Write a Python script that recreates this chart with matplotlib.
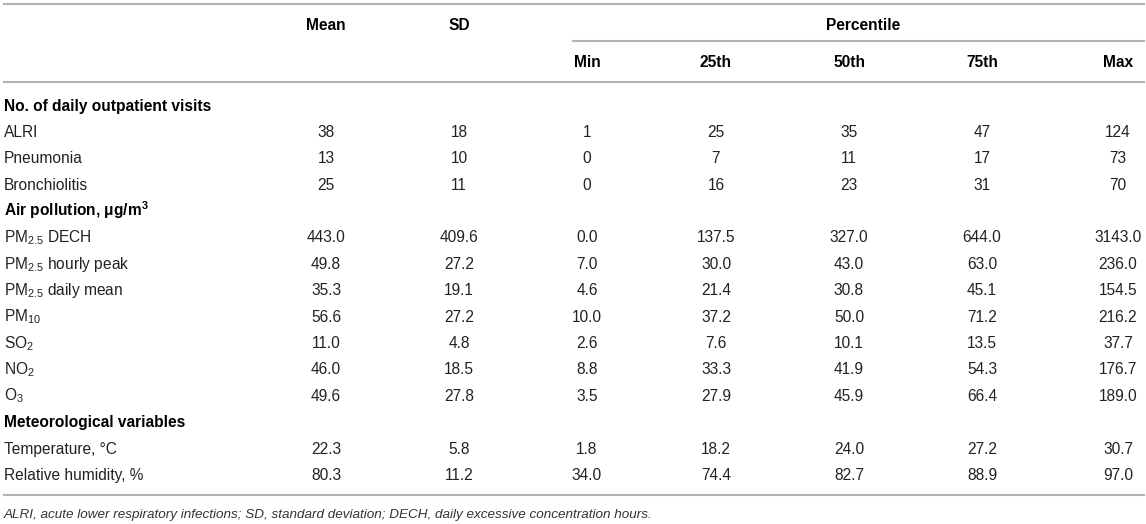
import matplotlib
matplotlib.use("Agg")
import matplotlib.pyplot as plt

plt.rcParams['font.family'] = ['Liberation Sans', 'DejaVu Sans']
plt.rcParams['mathtext.fontset'] = 'custom'
plt.rcParams['mathtext.rm'] = 'Liberation Sans'
plt.rcParams['mathtext.it'] = 'Liberation Sans:italic'
plt.rcParams['mathtext.bf'] = 'Liberation Sans:bold'

# ---- data ----
col_headers = ["Mean", "SD", "Min", "25th", "50th", "75th", "Max"]
group_header = "Percentile"

section_titles = ["No. of daily outpatient visits",
                  "Air pollution, μg/m$^{\\mathbf{3}}$",
                  "Meteorological variables"]
section_sizes = [3, 7, 2]

row_labels = ["ALRI", "Pneumonia", "Bronchiolitis",
              r"PM$_{2.5}$ DECH", r"PM$_{2.5}$ hourly peak", r"PM$_{2.5}$ daily mean",
              r"PM$_{10}$", r"SO$_{2}$", r"NO$_{2}$", r"O$_{3}$",
              "Temperature, °C", "Relative humidity, %"]
decimals = [0, 0, 0, 1, 1, 1, 1, 1, 1, 1, 1, 1]

mean_vals = [38, 13, 25, 443.0, 49.8, 35.3, 56.6, 11.0, 46.0, 49.6, 22.3, 80.3]
sd_vals   = [18, 10, 11, 409.6, 27.2, 19.1, 27.2, 4.8, 18.5, 27.8, 5.8, 11.2]
min_vals  = [1, 0, 0, 0.0, 7.0, 4.6, 10.0, 2.6, 8.8, 3.5, 1.8, 34.0]
p25_vals  = [25, 7, 16, 137.5, 30.0, 21.4, 37.2, 7.6, 33.3, 27.9, 18.2, 74.4]
p50_vals  = [35, 11, 23, 327.0, 43.0, 30.8, 50.0, 10.1, 41.9, 45.9, 24.0, 82.7]
p75_vals  = [47, 17, 31, 644.0, 63.0, 45.1, 71.2, 13.5, 54.3, 66.4, 27.2, 88.9]
max_vals  = [124, 73, 70, 3143.0, 236.0, 154.5, 216.2, 37.7, 176.7, 189.0, 30.7, 97.0]

footnote = ("ALRI, acute lower respiratory infections; SD, standard deviation; "
            "DECH, daily excessive concentration hours.")

# ---- layout ----
W, H = 1146, 524
fig = plt.figure(figsize=(W / 100, H / 100), dpi=100)
ax = fig.add_axes([0, 0, 1, 1])
ax.set_xlim(0, W)
ax.set_ylim(H, 0)
ax.axis('off')

col_x = [326, 459, 587, 716, 849, 982, 1118]
label_x = 4
fs = 11.2
cap = fs * 100 / 72 * 0.716 / 2   # half cap height in px
line_col = '#b4b4b4'
txt_col = '#222222'


def put(x, y, s, ha='center', **kw):
    ax.text(x, y + cap, s, ha=ha, va='baseline', fontsize=fs, **kw)


# rules
ax.plot([4, 1144], [4, 4], color=line_col, lw=1.5)
ax.plot([573, 1144], [40.5, 40.5], color=line_col, lw=1.5)
ax.plot([4, 1144], [82, 82], color=line_col, lw=1.5)
ax.plot([4, 1144], [495, 495], color=line_col, lw=1.5)

# headers
put(col_x[0], 24.5, col_headers[0], fontweight='bold', color='black')
put(col_x[1], 24.5, col_headers[1], fontweight='bold', color='black')
put(863, 24.5, group_header, fontweight='bold', color='black')
for j in range(2, 7):
    put(col_x[j], 61.5, col_headers[j], fontweight='bold', color='black')

# body
cols = [mean_vals, sd_vals, min_vals, p25_vals, p50_vals, p75_vals, max_vals]
y0 = 105
step = 26.38
line_i = 0
r = 0
for title, n in zip(section_titles, section_sizes):
    put(label_x, y0 + step * line_i, title, ha='left', fontweight='bold',
        color='black')
    line_i += 1
    for _ in range(n):
        y = y0 + step * line_i
        put(label_x, y, row_labels[r], ha='left', color=txt_col)
        for j, c in enumerate(cols):
            put(col_x[j], y, f"{c[r]:.{decimals[r]}f}", color=txt_col)
        line_i += 1
        r += 1

ax.text(4, 515, footnote, ha='left', va='center', fontsize=9.7,
        style='italic', color='#333333')

fig.savefig("out.png", dpi=100)
